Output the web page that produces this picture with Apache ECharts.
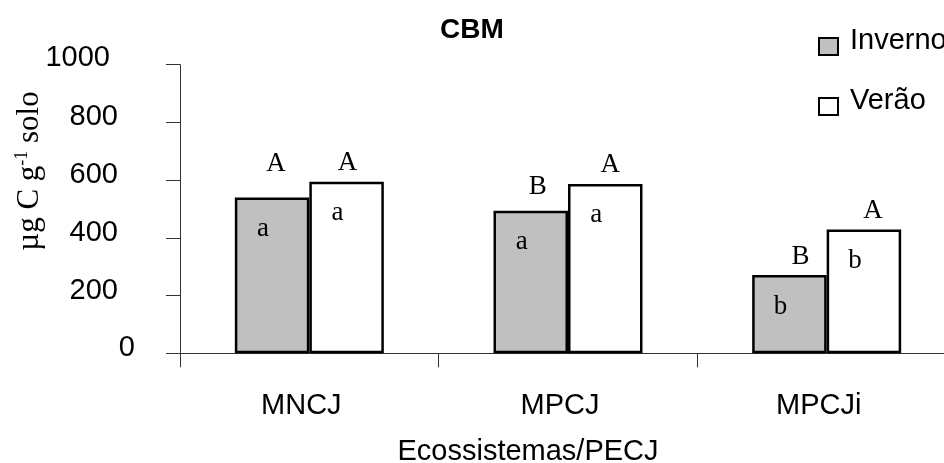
<!DOCTYPE html>
<html><head><meta charset="utf-8">
<script src="https://cdn.jsdelivr.net/npm/echarts@6/dist/echarts.min.js"></script>
<style>html,body{margin:0;padding:0;background:#fff}#c{width:944px;height:463px}</style>
</head><body><div id="c"></div>
<script>
// ---- data ----
const categories = ['MNCJ', 'MPCJ', 'MPCJi'];
const invernoValues = [540, 494, 271];
const veraoValues = [594, 587, 429];
const invernoUpper = ['A', 'B', 'B'];
const veraoUpper = ['A', 'A', 'A'];
const invernoLower = ['a', 'a', 'b'];
const veraoLower = ['a', 'a', 'b'];

// ---- layout nudges for letter annotations (px) ----
const invernoCapLift = [15, 5, 0];
const veraoCapLift = [0, 0, 0];
const invernoCapShift = [4, 7, 11];
const veraoCapShift = [1, 5, 9];

const sans = "Arial, 'Liberation Sans', sans-serif";
const serif = "'Times New Roman', 'Liberation Serif', serif";

const letterStyle = {fontFamily: serif, fontSize: 27, color: '#000'};

function mainSeries(name, stack, values, lower, fill) {
  return {
    name, type: 'bar', stack, stackStrategy: 'all', data: values,
    barGap: '0%', barCategoryGap: '42.4%',
    itemStyle: {color: fill, borderColor: '#000', borderWidth: 2.5},
    label: Object.assign({show: true, position: 'insideTop', distance: 18, offset: [-9, 0],
      formatter: p => lower[p.dataIndex]}, letterStyle),
    silent: true
  };
}
function capSeries(name, stack, upper, lift, shift) {
  return {
    name, type: 'bar', stack, stackStrategy: 'all',
    data: upper.map((t, i) => ({value: 0, label: {offset: [shift[i], -lift[i]]}})),
    barGap: '0%', barCategoryGap: '42.4%',
    itemStyle: {color: 'rgba(0,0,0,0)', borderWidth: 0},
    label: Object.assign({show: true, position: 'top', distance: 5,
      formatter: p => upper[p.dataIndex]}, letterStyle),
    silent: true
  };
}

const chart = echarts.init(document.getElementById('c'), null, {renderer: 'canvas'});
chart.setOption({
  animation: false,
  backgroundColor: '#fff',
  title: {text: 'CBM', left: 'center', top: 16, padding: [0, 9, 0, 0],
    textStyle: {fontFamily: sans, fontSize: 28, fontWeight: 'bold', color: '#000'}},
  legend: {
    data: ['Inverno', 'Verão'], orient: 'vertical', left: 818, top: 26, padding: 0,
    itemGap: 19, itemWidth: 19, itemHeight: 17, icon: 'rect',
    itemStyle: {borderColor: '#000', borderWidth: 2},
    formatter: n => '{a|' + n + '}',
    textStyle: {
      fontFamily: sans, fontSize: 29, color: '#000',
      rich: {a: {fontFamily: sans, fontSize: 29, color: '#000', lineHeight: 29, padding: [0, 0, 12, 7]}}
    }
  },
  grid: {left: 180, top: 64.7, width: 776, height: 288.6, containLabel: false, outerBoundsMode: 'none'},
  xAxis: {
    type: 'category', data: categories,
    axisLine: {lineStyle: {color: '#333', width: 1}},
    axisTick: {show: true, length: 14, lineStyle: {color: '#333'}},
    axisLabel: {margin: 38, fontFamily: sans, fontSize: 29, color: '#000', padding: [0, 16, 0, 0]},
    name: 'Ecossistemas/PECJ', nameLocation: 'middle', nameGap: 84, nameMoveOverlap: false,
    nameTextStyle: {fontFamily: sans, fontSize: 29, color: '#000', padding: [0, 80, 0, 0]}
  },
  yAxis: {
    type: 'value', min: 0, max: 1000, interval: 200,
    splitLine: {show: false},
    axisLine: {show: true, lineStyle: {color: '#333', width: 1}},
    axisTick: {show: true, length: 14, lineStyle: {color: '#333'}},
    axisLabel: {
      margin: 45,
      formatter: v => v === 0 ? '{z|0}' : (v === 1000 ? '{t|1000}' : '{n|' + v + '}'),
      rich: {
        z: {fontFamily: sans, fontSize: 29, color: '#000', padding: [0, 0, 10, 0]},
        n: {fontFamily: sans, fontSize: 29, color: '#000', padding: [0, 17, 10, 0]},
        t: {fontFamily: sans, fontSize: 29, color: '#000', padding: [0, 25, 14, 0]}
      }
    },
    name: '{m|µg C g}{s|-1}{m| solo}', nameLocation: 'middle', nameRotate: 90, nameGap: 133,
    nameMoveOverlap: false,
    nameTextStyle: {
      padding: [0, 0, 0, 76],
      rich: {
        m: {fontFamily: serif, fontSize: 31, color: '#000', lineHeight: 34},
        s: {fontFamily: serif, fontSize: 18, color: '#000', verticalAlign: 'top', lineHeight: 18}
      }
    }
  },
  series: [
    mainSeries('Inverno', 'inv', invernoValues, invernoLower, '#c0c0c0'),
    capSeries('InvernoCap', 'inv', invernoUpper, invernoCapLift, invernoCapShift),
    mainSeries('Verão', 'ver', veraoValues, veraoLower, '#ffffff'),
    capSeries('VerãoCap', 'ver', veraoUpper, veraoCapLift, veraoCapShift)
  ]
});
</script></body></html>
